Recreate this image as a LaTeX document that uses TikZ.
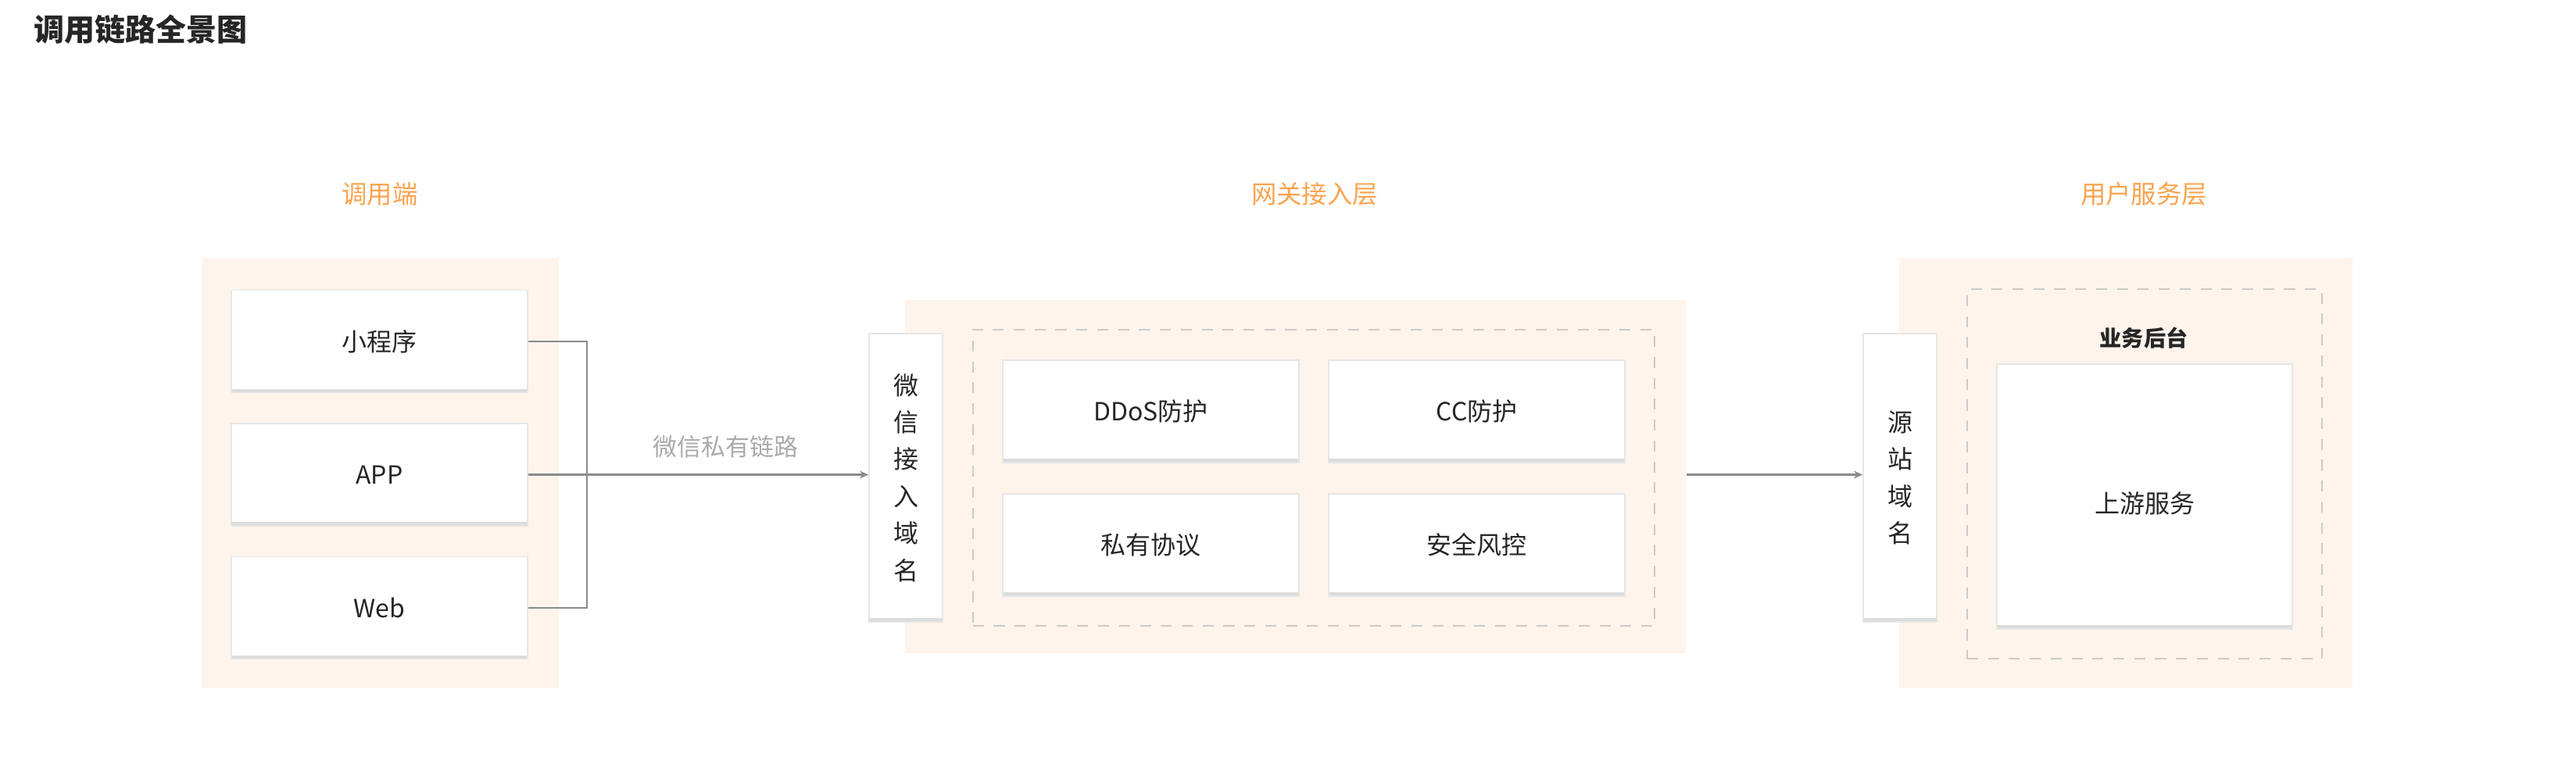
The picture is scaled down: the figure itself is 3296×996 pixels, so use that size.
\documentclass[tikz,border=0pt]{standalone}
\usepackage{fontspec}
\setmainfont{Noto Sans CJK SC}
\definecolor{lkorange}{HTML}{F9A350}
\definecolor{lkpeach}{HTML}{FEF4EB}
\definecolor{lkdark}{HTML}{262626}
\definecolor{lkgray}{HTML}{8A8A8A}
\definecolor{lklabel}{HTML}{AAAAAA}
\definecolor{lkedge}{HTML}{E6E6E6}
\definecolor{lkshade}{HTML}{DCDCDC}
\definecolor{lkdash}{HTML}{CBCBCB}
\usetikzlibrary{arrows.meta,positioning,calc}

\begin{document}
\begin{tikzpicture}[x=0.01cm, y=-0.01cm,
  every node/.style={font=\fontsize{9.1}{11}\selectfont, text=lkdark, inner sep=0pt},
  zone/.style={fill=lkpeach, draw=none},
  frame/.style={draw=lkdash, dashed, dash pattern=on 4pt off 3.6pt, line width=0.5pt},
  card/.style={draw=lkedge, fill=white, line width=0.4pt, minimum width=3.79cm,
               minimum height=1.31cm, align=center,
               path picture={\fill[lkshade] (path picture bounding box.south west)
                 rectangle ([yshift=1.4pt]path picture bounding box.south east);}},
  domainbox/.style={card, minimum width=0.94cm, minimum height=3.69cm,
                 font=\fontsize{9.1}{13.5}\selectfont},
  head/.style={font=\fontsize{9.2}{11}\selectfont, text=lkorange},
  link/.style={draw=lkgray, line width=0.6pt},
  arrow/.style={link, -{Stealth[length=3.2pt, width=2.8pt]}}
]
\useasboundingbox (0,0) rectangle (3296,996);

%% Title
\node[anchor=west, font=\fontsize{11.1}{13}\selectfont\bfseries] (title) at (43,38) {调用链路全景图};

%% Layer headings
\node[head] (hclient)  at (486,248)  {调用端};
\node[head] (hgateway) at (1682,248) {网关接入层};
\node[head] (hservice) at (2743,248) {用户服务层};

%% Layer zones
\node[zone, minimum width=4.57cm, minimum height=5.51cm] (clientzone) at (486.5,605.5) {};
\node[zone, minimum width=9.99cm, minimum height=4.52cm] (gwzone) at (1657.5,610) {};
\node[zone, minimum width=5.80cm, minimum height=5.51cm] (svczone) at (2720,605.5) {};

%% Dashed groups
\node[frame, minimum width=8.72cm, minimum height=3.79cm] (gwgroup) at (1681,611.5) {};
\node[frame, minimum width=4.54cm, minimum height=4.73cm] (svcgroup) at (2744,606.5) {};

%% Clients
\node[card] (mini) at (485.5,437)   {小程序};
\node[card] (app)  at (485.5,607.5) {APP};
\node[card] (web)  at (485.5,778)   {Web};

%% Gateway
\node[domainbox] (wxdomain) at (1159,611.5) {微\\信\\接\\入\\域\\名};
\node[card] (ddos)  at (1472.5,526.5) {DDoS防护};
\node[card] (cc)    at (1889.5,526.5) {CC防护};
\node[card] (proto) at (1472.5,697.5) {私有协议};
\node[card] (risk)  at (1889.5,697.5) {安全风控};

%% User services
\node[domainbox] (origin) at (2431,611.5) {源\\站\\域\\名};
\node[font=\fontsize{8}{10}\selectfont\bfseries] (backend) at (2743,432) {业务后台};
\node[card, minimum width=3.78cm, minimum height=3.39cm] (upstream) at (2744,635.5)
  {\raisebox{-0.09cm}[\height][\depth]{上游服务}};

%% Links
\coordinate (joint) at (751,607.5);
\foreach \src in {mini,web}
  \draw[link] (\src.east) -| (joint);
\draw[arrow] (app.east) -- (wxdomain.west |- app.east)
  node[pos=0.58, above=0.2cm, font=\fontsize{8.8}{11}\selectfont, text=lklabel] (wxlabel) {微信私有链路};
\draw[arrow] (gwzone.east |- app.east) -- (origin.west |- app.east);

\end{tikzpicture}
\end{document}
